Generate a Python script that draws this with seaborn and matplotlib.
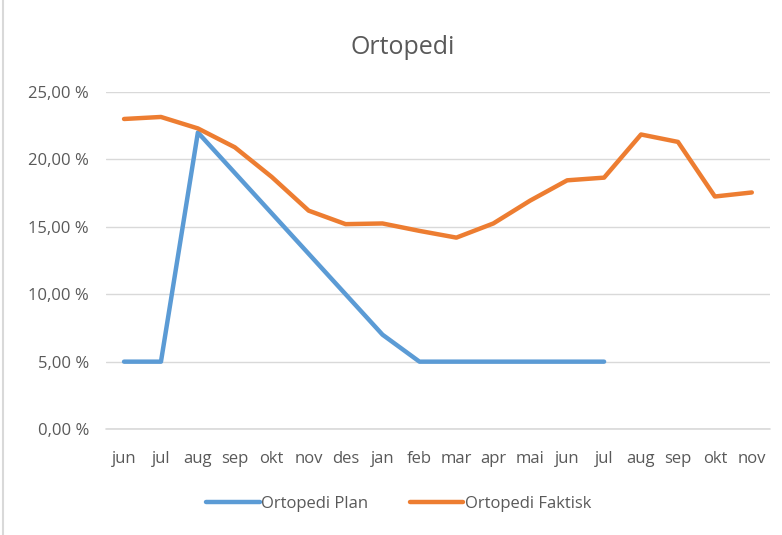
import matplotlib
matplotlib.use("Agg")
import matplotlib.pyplot as plt
from matplotlib.lines import Line2D
import seaborn as sns
import pandas as pd

# --- data ---
months = ["jun", "jul", "aug", "sep", "okt", "nov", "des", "jan", "feb",
          "mar", "apr", "mai", "jun", "jul", "aug", "sep", "okt", "nov"]
plan = [5.0, 5.0, 22.0, 19.0, 16.0, 13.0, 10.0, 7.0, 5.0,
        5.0, 5.0, 5.0, 5.0, 5.0]
faktisk = [23.0, 23.15, 22.3, 20.9, 18.7, 16.2, 15.2, 15.25, 14.7,
           14.2, 15.25, 16.95, 18.45, 18.65, 21.85, 21.3, 17.25, 17.55]
series_names = ["Ortopedi Plan", "Ortopedi Faktisk"]
y_ticks = [0, 5, 10, 15, 20, 25]

sns.set_style("white")
plt.rcParams["font.family"] = ["Liberation Sans Narrow", "Open Sans", "DejaVu Sans"]

df = pd.concat([
    pd.DataFrame({"pos": range(len(plan)), "value": plan, "serie": series_names[0]}),
    pd.DataFrame({"pos": range(len(faktisk)), "value": faktisk, "serie": series_names[1]}),
])

fig = plt.figure(figsize=(7.82, 5.35), dpi=100)
ax = fig.add_axes([0.135, 0.198, 0.85, 0.63])

sns.lineplot(data=df, x="pos", y="value", hue="serie", sort=False,
             palette=["#5B9BD5", "#ED7D31"], linewidth=3.2, ax=ax, legend=False)

ax.set_xlim(-0.5, len(months) - 0.5)
ax.set_ylim(0, 25)
ax.set_xticks(range(len(months)))
ax.set_xticklabels(months)
ax.set_yticks(y_ticks)
ax.set_yticklabels([f"{t:.2f} %".replace(".", ",") for t in y_ticks])
ax.grid(axis="y", color="#D9D9D9", linewidth=1)
ax.axhline(0, color="#D9D9D9", linewidth=1.2, clip_on=False, zorder=0)
ax.set_axisbelow(True)
for s in ax.spines.values():
    s.set_visible(False)
ax.tick_params(axis="both", length=0, labelsize=12, colors="#595959")
ax.tick_params(axis="x", pad=16)
ax.tick_params(axis="y", pad=12)
ax.set_xlabel("")
ax.set_ylabel("")

fig.text(0.515, 0.912, "Ortopedi", ha="center", va="center", fontsize=18, color="#595959")

handles = [Line2D([], [], color="#5B9BD5", lw=3.2),
           Line2D([], [], color="#ED7D31", lw=3.2)]
fig.legend(handles, series_names, loc="center", bbox_to_anchor=(0.51, 0.058), ncol=2,
           frameon=False, fontsize=12, labelcolor="#595959", handlelength=3.2,
           handletextpad=0.1, columnspacing=2.5)

# light chart border on the left edge
fig.add_artist(Line2D([0.004, 0.004], [0, 1], color="#D9D9D9", lw=1.5))

fig.savefig("out.png", dpi=100)
